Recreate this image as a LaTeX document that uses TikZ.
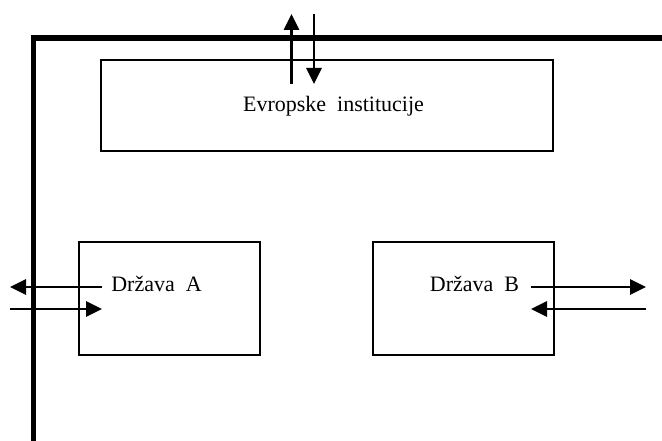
\documentclass[tikz,border=0pt]{standalone}
\usepackage{fontspec}
\setmainfont{Liberation Serif}
\usetikzlibrary{arrows.meta}
\tikzset{
  box/.style={draw, line width=2pt, minimum width=#1, inner sep=0pt, outer sep=0pt},
  lbl/.style={font=\fontsize{22}{26}\selectfont, inner sep=0pt},
  arr/.style={line width=2.7pt, -{Triangle[length=16pt,width=15pt]}},
  frame/.style={line width=5.5pt},
}
\begin{document}
\begin{tikzpicture}[x=1pt,y=-1pt]
\useasboundingbox (0,0) rectangle (662,441);
% frame
\coordinate (fb) at (33.5,441);
\coordinate (fc) at (33.5,38);
\coordinate (fr) at (662,38);
\draw[frame] (fb) -- (fc) ++(-2.75,0) -- (fr);
% boxes
\node[box=452pt, minimum height=91pt] (eu) at (327,105.5) {};
\node[box=181pt, minimum height=113pt] (A) at (169.5,298.5) {};
\node[box=181pt, minimum height=113pt] (B) at (463.5,298.5) {};
% labels
\node[lbl] (teu) at (333.5,106) {Evropske\ \ institucije};
\node[lbl] (tA) at (156.5,284) {Država\ \ A};
\node[lbl] (tB) at (474.5,284) {Država\ \ B};
% arrow coordinates
\coordinate (u1) at (291.5,84);
\coordinate (u2) at (291.5,14);
\coordinate (d1) at (314,14);
\coordinate (d2) at (314,84);
\coordinate (aL1) at (102,287);
\coordinate (aL2) at (10,287);
\coordinate (aR1) at (10,309);
\coordinate (aR2) at (102,309);
\coordinate (bR1) at (531,287);
\coordinate (bR2) at (646,287);
\coordinate (bL1) at (646,309);
\coordinate (bL2) at (531,309);
\draw[arr] (u1) -- (u2);
\draw[arr] (d1) -- (d2);
\draw[arr] (aL1) -- (aL2);
\draw[arr] (aR1) -- (aR2);
\draw[arr] (bR1) -- (bR2);
\draw[arr] (bL1) -- (bL2);
\end{tikzpicture}
\end{document}
